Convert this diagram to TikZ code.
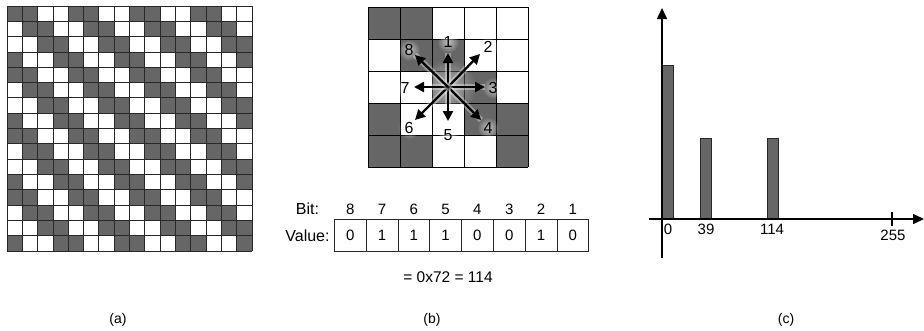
\documentclass[tikz,border=0pt]{standalone}
\usepackage{fontspec}
\setmainfont{Liberation Sans}
\usetikzlibrary{arrows.meta,fadings}
\definecolor{dk}{RGB}{102,102,102}
\definecolor{gl}{RGB}{40,40,40}
\tikzfading[name=glowfade, inner color=transparent!0, outer color=transparent!100]
\begin{document}
\begin{tikzpicture}[x=1pt,y=-1pt,
  txt/.style={inner sep=0pt, font=\fontsize{15}{18}\selectfont},
  dirlbl/.style={inner sep=0pt, font=\fontsize{16}{19}\selectfont},
  captxt/.style={inner sep=0pt, font=\fontsize{14}{17}\selectfont},
  axlbl/.style={inner sep=0pt, font=\fontsize{15}{18}\selectfont},
  gridline/.style={draw=gl, line width=0.8pt},
  darkcell/.style={fill=dk},
  dirarrow/.style={line width=2.3pt, -{Triangle[length=10pt,width=10pt]},
     preaction={draw=white, line width=6pt, opacity=0.35, -}},
  axisline/.style={line width=1.6pt, -{Triangle[length=11pt,width=10pt]}},
  bar/.style={fill=dk, draw=gl, line width=0.6pt},
  bitcell/.style={draw=gl, line width=0.8pt, minimum width=31.8pt, minimum height=32.4pt, inner sep=0pt, font=\fontsize{15}{18}\selectfont}]
\useasboundingbox (0,0) rectangle (924,330);
\fill[white] (0,0) rectangle (924,330);

% ---------- (a) ----------
\def\s{15.3125}
\foreach \r in {0,...,15}{
  \foreach \c in {0,...,15}{
    \pgfmathtruncatemacro\m{mod(\c-\r+16,4)}
    \ifnum\m<2
      \fill[darkcell] (7+\c*\s,6+\r*\s) rectangle ++(\s,\s);
    \fi
  }
}
\foreach \i in {0,...,16}{
  \draw[gridline] (7+\i*\s,6) -- (7+\i*\s,251);
  \draw[gridline] (7,6+\i*\s) -- (252,6+\i*\s);
}
\node[captxt] (capa) at (118,320) {(a)};

% ---------- (b) ----------
\foreach \r/\c in {0/0,0/1,1/1,1/2,2/2,2/3,3/0,3/3,3/4,4/0,4/1,4/4}{
  \fill[darkcell] (368+\c*32,7+\r*32) rectangle ++(32,32);
}
\foreach \i in {0,...,5}{
  \draw[line width=0.9pt] (368+\i*32,7) -- (368+\i*32,167);
  \draw[line width=0.9pt] (368,7+\i*32) -- (528,7+\i*32);
}
\coordinate (ctr) at (448,87);
\fill[white, opacity=0.5, path fading=glowfade] (ctr) circle (28);
\coordinate (e1) at (448,53);
\coordinate (e2) at (480,54);
\coordinate (e3) at (485,87);
\coordinate (e4) at (481,120);
\coordinate (e5) at (448,121);
\coordinate (e6) at (415,120);
\coordinate (e7) at (414,87);
\coordinate (e8) at (415,55);
\foreach \n/\x/\y in {1/448/42,2/488/47,3/493/88,4/488/128,5/448/135,6/409/128,7/405/88,8/409/50}{
  \fill[white, opacity=0.6, path fading=glowfade] (\x,\y) circle (11);
  \node[dirlbl] (l\n) at (\x,\y) {\n};
}
\foreach \n in {1,...,8}{
  \draw[dirarrow] (ctr) -- (e\n);
}

% bit table
\node[txt, font=\fontsize{16}{19}\selectfont] (bitlbl) at (307.5,209) {Bit:};
\node[txt, font=\fontsize{16}{19}\selectfont] (vallbl) at (307.5,235.5) {Value:};
\foreach \i/\b/\v in {0/8/0,1/7/1,2/6/1,3/5/1,4/4/0,5/3/0,6/2/1,7/1/0}{
  \node[bitcell] (v\i) at (334.3+31.8*\i+15.9,235.5) {\v};
  \node[txt] (b\i) at (334.3+31.8*\i+15.9,209) {\b};
}
\node[txt, font=\fontsize{15.5}{18}\selectfont] (res) at (448,277) {= 0x72 = 114};
\node[captxt] (capb) at (432,320) {(b)};

% ---------- (c) ----------
\coordinate (yb) at (662,258);
\coordinate (yt) at (662,8);
\coordinate (xl) at (649,219);
\coordinate (xr) at (924,219);
\draw[bar] (662,65) rectangle (673,219);
\draw[bar] (700,138) rectangle (711,219);
\draw[bar] (767,138) rectangle (778,219);
\draw[axisline] (yb) -- (yt);
\draw[axisline] (xl) -- (xr);
\coordinate (t1) at (892,212);
\coordinate (t2) at (892,226);
\draw[line width=1.6pt] (t1) -- (t2);
\node[axlbl] (x0) at (668,229) {0};
\node[axlbl] (x39) at (706,229) {39};
\node[axlbl] (x114) at (772,229) {114};
\node[axlbl] (x255) at (893,235) {255};
\node[captxt] (capc) at (786,320) {(c)};
\end{tikzpicture}
\end{document}
